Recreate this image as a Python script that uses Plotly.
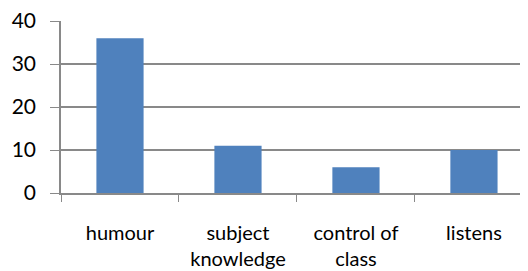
import plotly.graph_objects as go

categories = ["humour", "subject<br>knowledge", "control of<br>class", "listens"]
values = [36, 11, 6, 10]
y_ticks = [0, 10, 20, 30, 40]

FONT = "Lato"
GRAY = "#898989"

fig = go.Figure(
    go.Bar(
        x=categories,
        y=values,
        marker=dict(color="#4F81BD", line=dict(width=0)),
        width=0.4,
    )
)

# page body has an 8px default margin, so the figure is sized to fit inside it
fig.update_layout(
    width=520,
    height=263,
    margin=dict(l=53, r=0, t=13, b=78, autoexpand=False),
    paper_bgcolor="white",
    plot_bgcolor="white",
    showlegend=False,
    font=dict(family=FONT, size=21, color="#000000"),
)

fig.update_xaxes(
    range=[-0.5, 3.458],
    tickson="boundaries",
    ticks="outside",
    ticklen=7,
    tickwidth=1.3,
    tickcolor=GRAY,
    showline=True,
    linecolor=GRAY,
    linewidth=1.5,
    showgrid=False,
    ticklabelstandoff=21,
    ticklabeloverflow="allow",
    tickfont=dict(family=FONT, size=20, color="#000000"),
)

fig.update_yaxes(
    range=[0, 40],
    tickvals=y_ticks,
    ticks="outside",
    ticklen=9,
    tickwidth=1.3,
    tickcolor=GRAY,
    showline=True,
    linecolor=GRAY,
    linewidth=1.5,
    showgrid=True,
    gridcolor=GRAY,
    gridwidth=1.5,
    zeroline=False,
    ticklabelstandoff=10,
    ticklabeloverflow="allow",
    tickfont=dict(family=FONT, size=21, color="#000000"),
)

fig.write_html("out.html")
